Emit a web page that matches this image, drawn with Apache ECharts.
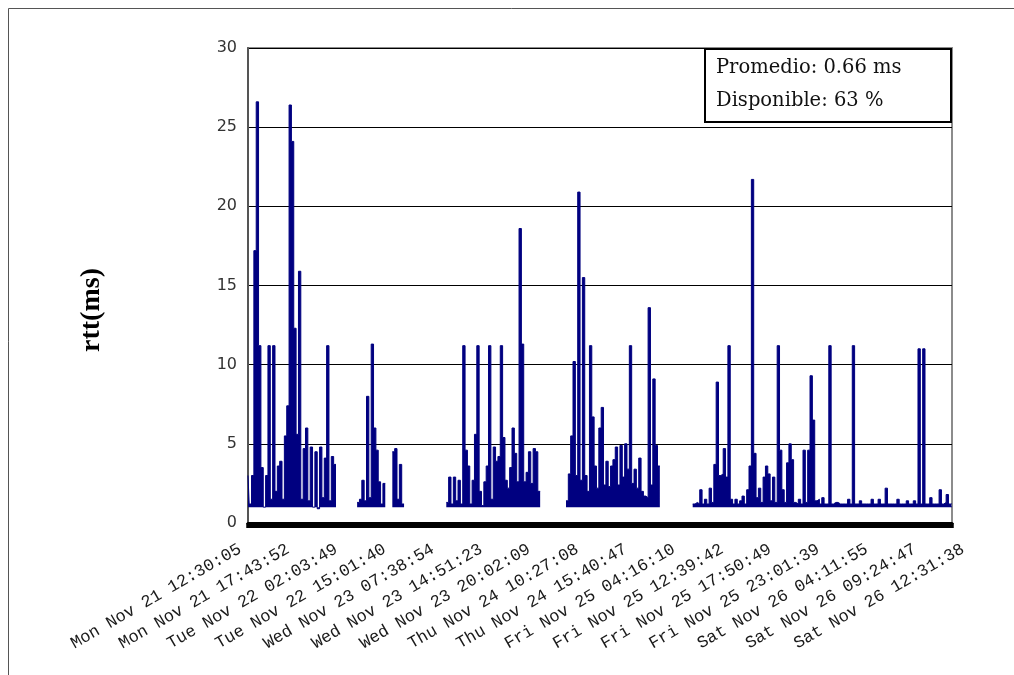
<!DOCTYPE html>
<html lang="es">
<head>
<meta charset="UTF-8">
<title>rtt(ms)</title>
<script src="https://cdn.jsdelivr.net/npm/echarts@6/dist/echarts.min.js"></script>
<style>
  html, body { margin: 0; padding: 0; background: #fff; }
  #chart { width: 1014px; height: 675px; }
</style>
</head>
<body>
<div id="chart"></div>
<script>
  // etiquetas del eje x, una cada 20 muestras
  const tickLabels = [
    'Mon Nov 21 12:30:05', 'Mon Nov 21 17:43:52', 'Tue Nov 22 02:03:49', 'Tue Nov 22 15:01:40',
    'Wed Nov 23 07:38:54', 'Wed Nov 23 14:51:23', 'Wed Nov 23 20:02:09', 'Thu Nov 24 10:27:08',
    'Thu Nov 24 15:40:47', 'Fri Nov 25 04:16:10', 'Fri Nov 25 12:39:42', 'Fri Nov 25 17:50:49',
    'Fri Nov 25 23:01:39', 'Sat Nov 26 04:11:55', 'Sat Nov 26 09:24:47', 'Sat Nov 26 12:31:38'
  ];
  const step = 20;

  // rtt en ms por muestra (null = sin respuesta)
  const rtt = [
    3.0, 1.2, 3.0, 17.2, 26.6, 11.2, 3.5, 1.0, 3.0, 11.2,
    1.5, 11.2, 2.0, 3.6, 3.9, 1.5, 5.5, 7.4, 26.4, 24.1,
    12.3, 5.6, 15.9, 1.5, 4.7, 6.0, 1.4, 4.8, 1.0, 4.5,
    0.9, 4.8, 1.6, 4.1, 11.2, 1.4, 4.2, 3.7,
    null, null, null, null, null, null, null, null, null,
    1.3, 1.5, 2.7, 1.4, 8.0, 1.6, 11.3, 6.0, 4.6, 2.6, 1.2, 2.5,
    null, null, null,
    4.5, 4.7, 1.5, 3.7, 1.2,
    null, null, null, null, null, null, null, null, null,
    null, null, null, null, null, null, null, null, null,
    1.3, 2.9, 1.2, 2.9, 1.4, 2.7, 1.2, 11.2, 4.6, 3.6,
    1.2, 2.7, 5.6, 11.2, 2.0, 1.1, 2.6, 3.6, 11.2, 1.5,
    4.8, 3.9, 4.2, 11.2, 5.4, 2.7, 2.2, 3.5, 6.0, 4.4,
    2.6, 18.6, 11.3, 2.6, 3.2, 4.5, 2.5, 4.7, 4.5, 2.0,
    null, null, null, null, null, null, null, null, null, null, null,
    1.4, 3.1, 5.5, 10.2, 3.0, 20.9, 2.7, 15.5, 3.0, 2.0,
    11.2, 6.7, 3.6, 2.2, 6.0, 7.3, 2.4, 3.9, 2.3, 3.6,
    4.0, 4.8, 2.4, 4.9, 2.9, 5.0, 3.4, 11.2, 2.5, 3.4,
    2.2, 4.1, 2.0, 1.7, 1.6, 13.6, 2.4, 9.1, 4.9, 3.6,
    null, null, null, null, null, null, null, null, null, null, null, null, null, null,
    1.2, 1.3, 1.2, 2.1, 1.2, 1.5, 1.2, 2.2, 1.3, 3.7,
    8.9, 3.0, 3.1, 4.7, 2.9, 11.2, 1.5, 1.2, 1.5, 1.2,
    1.4, 1.7, 1.2, 2.1, 3.6, 21.7, 4.4, 1.6, 2.2, 1.3,
    2.9, 3.6, 3.1, 1.4, 2.9, 1.3, 11.2, 4.6, 2.1, 1.3,
    3.8, 5.0, 4.0, 1.3, 1.2, 1.5, 1.2, 4.6, 1.3, 4.6,
    9.3, 6.5, 1.4, 1.5, 1.2, 1.6, 1.2, 1.2, 11.2, 1.2,
    1.3, 1.3, 1.2, 1.2, 1.2, 1.2, 1.5, 1.2, 11.2, 1.2,
    1.2, 1.4, 1.2, 1.2, 1.2, 1.2, 1.5, 1.2, 1.2, 1.5,
    1.2, 1.2, 2.2, 1.2, 1.2, 1.2, 1.2, 1.5, 1.2, 1.2,
    1.2, 1.4, 1.2, 1.2, 1.4, 1.2, 11.0, 1.2, 11.0, 1.2,
    1.2, 1.6, 1.2, 1.2, 1.2, 2.1, 1.2, 1.3, 1.8, 1.2,
    1.2
  ];

  const promedio = 'Promedio: 0.66 ms';
  const disponible = 'Disponible: 63 %';

  const times = rtt.map((v, i) => (i % step === 0 ? tickLabels[i / step] : ''));

  const chart = echarts.init(document.getElementById('chart'), null, { renderer: 'canvas' });
  chart.setOption({
    animation: false,
    grid: [
      { left: 248, right: 62, top: 48, bottom: 152, show: true, borderColor: '#8c8c8c', borderWidth: 2 },
      // solo para las etiquetas, un poco más ancho que el área del gráfico
      { left: 240, right: 51, top: 48, bottom: 152 }
    ],
    xAxis: [
      {
        type: 'category', gridIndex: 0, data: times, boundaryGap: false,
        axisLine: { lineStyle: { color: '#000', width: 3 } },
        axisTick: { show: true, interval: 0, length: 5, lineStyle: { color: '#000', width: 3.5 } },
        axisLabel: { show: false },
        splitLine: { show: false }
      },
      {
        type: 'category', gridIndex: 1, data: times, boundaryGap: false,
        axisLine: { show: false }, axisTick: { show: false },
        axisLabel: {
          interval: step - 1, rotate: 30, margin: 25,
          fontFamily: 'Liberation Mono', fontSize: 17, color: '#1a1a1a'
        }
      }
    ],
    yAxis: [
      {
        type: 'value', gridIndex: 0, min: 0, max: 30, interval: 5,
        axisLine: { show: true, lineStyle: { color: '#555', width: 2 } },
        axisTick: { show: false },
        axisLabel: { margin: 11, fontFamily: 'DejaVu Sans', fontSize: 16, color: '#333' },
        splitLine: { lineStyle: { color: '#000', width: 1 } }
      },
      { type: 'value', gridIndex: 1, min: 0, max: 30, show: false }
    ],
    series: [{
      type: 'line', data: rtt, xAxisIndex: 0, yAxisIndex: 0,
      symbol: 'none', connectNulls: false, step: 'middle',
      lineStyle: { color: '#000080', width: 1 },
      areaStyle: { color: '#000080', opacity: 1, origin: 1 }
    }],
    graphic: [
      {
        type: 'polyline', z: 0,
        shape: { points: [[8.5, 675], [8.5, 8.5], [1014, 8.5]] },
        style: { stroke: '#555', lineWidth: 1, fill: null }
      },
      {
        type: 'text', x: 92, y: 310, rotation: Math.PI / 2,
        style: {
          text: 'rtt(ms)', font: 'bold 28px "Liberation Serif"', fill: '#000',
          textAlign: 'center', textVerticalAlign: 'middle'
        }
      },
      {
        type: 'rect', z: 100,
        shape: { x: 705, y: 49, width: 246, height: 73 },
        style: { fill: '#fff', stroke: '#000', lineWidth: 2 }
      },
      {
        type: 'text', z: 101, x: 716, y: 68,
        style: { text: promedio, font: '19.5px "DejaVu Serif"', fill: '#111', textVerticalAlign: 'middle' }
      },
      {
        type: 'text', z: 101, x: 716, y: 101,
        style: { text: disponible, font: '19.5px "DejaVu Serif"', fill: '#111', textVerticalAlign: 'middle' }
      }
    ]
  });
</script>
</body>
</html>
